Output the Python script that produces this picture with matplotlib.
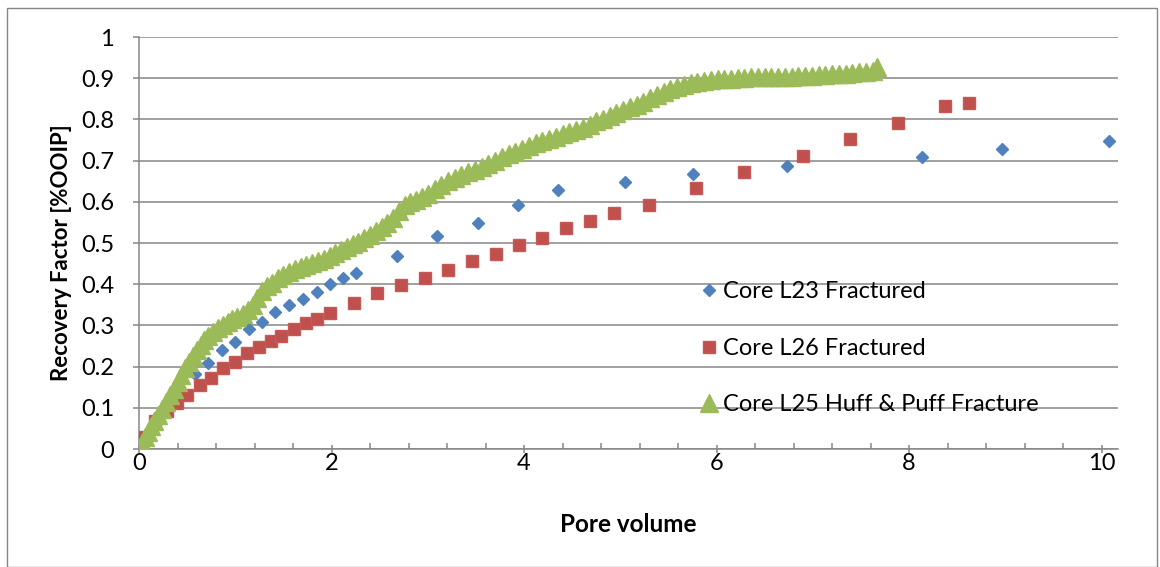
import matplotlib
matplotlib.use("Agg")
import matplotlib.pyplot as plt
from matplotlib.patches import Rectangle
from matplotlib.ticker import MultipleLocator

plt.rcParams['font.family'] = ['Lato', 'DejaVu Sans']

# Core L23 Fractured
pv_l23 = [0.00, 0.16, 0.30, 0.44, 0.58, 0.72, 0.86, 1.00, 1.14, 1.28, 1.41, 1.56, 1.70,
          1.85, 1.98, 2.12, 2.25, 2.68, 3.10, 3.52, 3.94, 4.35, 5.05, 5.75, 6.73, 8.13,
          8.97, 10.08]
rf_l23 = [0.000, 0.050, 0.100, 0.139, 0.181, 0.208, 0.240, 0.260, 0.291, 0.308, 0.333,
          0.350, 0.363, 0.380, 0.400, 0.415, 0.428, 0.468, 0.516, 0.548, 0.592, 0.629,
          0.648, 0.667, 0.688, 0.709, 0.728, 0.748]

# Core L26 Fractured
pv_l26 = [0.00, 0.02, 0.17, 0.29, 0.39, 0.50, 0.63, 0.75, 0.87, 1.00, 1.12, 1.25, 1.37,
          1.48, 1.61, 1.73, 1.85, 1.98, 2.23, 2.47, 2.72, 2.97, 3.21, 3.46, 3.71, 3.95,
          4.19, 4.44, 4.68, 4.93, 5.30, 5.79, 6.28, 6.90, 7.39, 7.88, 8.37, 8.62]
rf_l26 = [0.015, 0.030, 0.068, 0.092, 0.112, 0.131, 0.155, 0.172, 0.196, 0.210, 0.234,
          0.247, 0.263, 0.274, 0.292, 0.306, 0.316, 0.331, 0.355, 0.378, 0.398, 0.414,
          0.434, 0.457, 0.474, 0.494, 0.513, 0.536, 0.553, 0.572, 0.592, 0.633, 0.672,
          0.711, 0.752, 0.791, 0.833, 0.840]

# Core L25 Huff & Puff Fracture
pv_l25 = [0.00, 0.03, 0.06, 0.09, 0.12, 0.16, 0.20, 0.24, 0.28, 0.32, 0.36, 0.40, 0.44,
          0.48, 0.52, 0.56, 0.60, 0.64, 0.68, 0.72, 0.77, 0.82, 0.87, 0.92, 0.97, 1.02,
          1.08, 1.13, 1.18, 1.23, 1.28, 1.33, 1.38, 1.44, 1.50, 1.56, 1.62, 1.68, 1.74,
          1.80, 1.86, 1.92, 1.98, 2.04, 2.10, 2.16, 2.22, 2.28, 2.34, 2.40, 2.46, 2.52,
          2.58, 2.64, 2.70, 2.76, 2.82, 2.88, 2.94, 3.00, 3.07, 3.14, 3.21, 3.28, 3.35,
          3.42, 3.49, 3.56, 3.63, 3.70, 3.77, 3.84, 3.91, 3.98, 4.05, 4.12, 4.19, 4.26,
          4.33, 4.40, 4.47, 4.54, 4.61, 4.68, 4.75, 4.82, 4.89, 4.96, 5.03, 5.10, 5.17,
          5.24, 5.31, 5.38, 5.45, 5.52, 5.59, 5.66, 5.73, 5.80, 5.87, 5.94, 6.01, 6.08,
          6.15, 6.22, 6.29, 6.36, 6.43, 6.50, 6.57, 6.64, 6.71, 6.78, 6.85, 6.92, 6.99,
          7.06, 7.13, 7.20, 7.27, 7.34, 7.41, 7.48, 7.55, 7.62, 7.67]
rf_l25 = [0.000, 0.014, 0.028, 0.042, 0.055, 0.068, 0.083, 0.098, 0.114, 0.130, 0.146,
          0.162, 0.179, 0.196, 0.211, 0.226, 0.240, 0.253, 0.265, 0.275, 0.285, 0.294,
          0.302, 0.309, 0.315, 0.321, 0.328, 0.338, 0.350, 0.366, 0.383, 0.396, 0.404,
          0.414, 0.423, 0.430, 0.437, 0.442, 0.447, 0.452, 0.457, 0.462, 0.468, 0.476,
          0.484, 0.491, 0.497, 0.503, 0.511, 0.519, 0.529, 0.539, 0.549, 0.560, 0.577,
          0.592, 0.600, 0.605, 0.612, 0.620, 0.630, 0.640, 0.650, 0.658, 0.665, 0.672,
          0.678, 0.685, 0.692, 0.700, 0.708, 0.715, 0.722, 0.729, 0.736, 0.742, 0.747,
          0.752, 0.758, 0.764, 0.770, 0.774, 0.779, 0.787, 0.795, 0.802, 0.809, 0.816,
          0.823, 0.829, 0.836, 0.843, 0.851, 0.859, 0.866, 0.873, 0.879, 0.884, 0.888,
          0.891, 0.893, 0.895, 0.897, 0.898, 0.899, 0.900, 0.901, 0.902, 0.902, 0.903,
          0.903, 0.904, 0.904, 0.904, 0.905, 0.905, 0.906, 0.907, 0.908, 0.909, 0.910,
          0.911, 0.912, 0.914, 0.916, 0.918, 0.928]

x_ticks = [0, 2, 4, 6, 8, 10]
y_ticks = [0, 0.1, 0.2, 0.3, 0.4, 0.5, 0.6, 0.7, 0.8, 0.9, 1]
y_tick_labels = ['0', '0.1', '0.2', '0.3', '0.4', '0.5', '0.6', '0.7', '0.8', '0.9', '1']

W, H = 1160, 567
fig = plt.figure(figsize=(W / 100, H / 100), dpi=100)
ax = fig.add_axes([139 / W, 1 - 449 / H, (1118 - 139) / W, (449 - 37) / H])

axis_gray = '#868686'
ax.plot(pv_l23, rf_l23, linestyle='none', marker='D', markersize=6.6,
        color='#4F81BD', label='Core L23 Fractured', zorder=3)
ax.plot(pv_l26, rf_l26, linestyle='none', marker='s', markersize=9,
        color='#C0504D', markeredgecolor='#C65A57', label='Core L26 Fractured', zorder=4)
ax.plot(pv_l25, rf_l25, linestyle='none', marker='^', markersize=13.5,
        color='#9BBB59', label='Core L25 Huff & Puff Fracture', zorder=5)

ax.set_xlim(0, 10.17)
ax.set_ylim(0, 1)
ax.set_xticks(x_ticks)
ax.set_xticklabels([str(t) for t in x_ticks])
ax.xaxis.set_minor_locator(MultipleLocator(0.4))
ax.set_yticks(y_ticks)
ax.set_yticklabels(y_tick_labels)

ax.grid(axis='y', color=axis_gray, linewidth=1.1, zorder=0)
ax.set_axisbelow(True)
for side in ('top', 'right'):
    ax.spines[side].set_visible(False)
for side in ('left', 'bottom'):
    ax.spines[side].set_color(axis_gray)
    ax.spines[side].set_linewidth(1.1)

ax.tick_params(axis='y', which='major', direction='out', length=4, width=1.1,
               color=axis_gray, labelsize=17, pad=14, labelcolor='black')
ax.tick_params(axis='x', which='major', direction='inout', length=6, width=1.1,
               color=axis_gray, labelsize=17, pad=0, labelcolor='black')
ax.tick_params(axis='x', which='minor', direction='in', length=4, width=1.1,
               color=axis_gray)

ax.set_xlabel('Pore volume', fontsize=17.5, fontweight='bold', labelpad=28)
ax.set_ylabel('Recovery Factor [%OOIP]', fontsize=16, fontweight='bold')
ax.yaxis.set_label_coords((72 - 139) / (1118 - 139), (449 - 253) / (449 - 37))

leg = ax.legend(loc='upper left', bbox_to_anchor=(699.5 / W, 1 - 281.5 / H),
                bbox_transform=fig.transFigure, frameon=False, fontsize=17,
                handlelength=0.8, handletextpad=0.19, labelspacing=1.5,
                borderaxespad=0, borderpad=0)

fig.patches.append(Rectangle((7 / W, 0), (1157 - 7) / W, 1 - 8 / H,
                             transform=fig.transFigure, fill=False,
                             edgecolor=axis_gray, linewidth=1.0))

fig.savefig('out.png', dpi=100)
